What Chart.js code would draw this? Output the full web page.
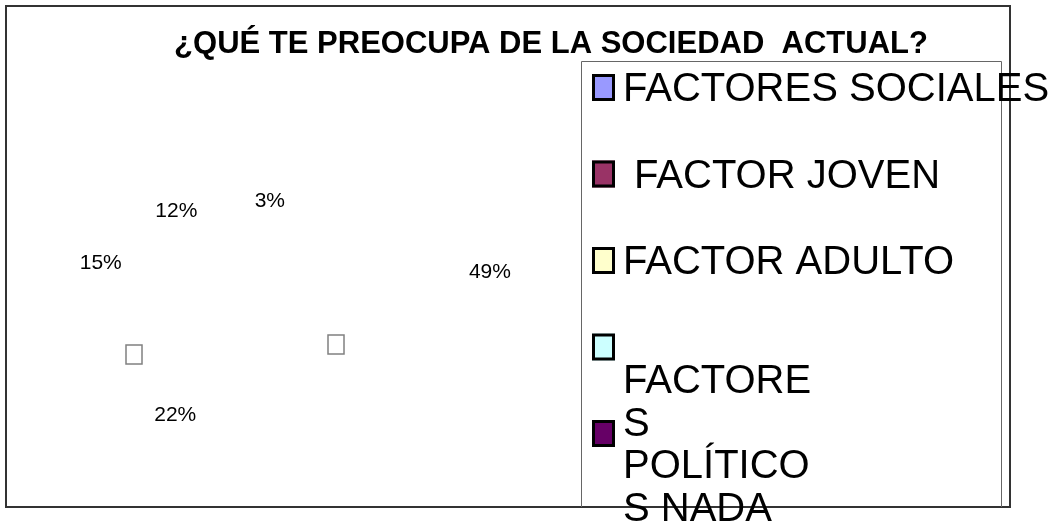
<!DOCTYPE html>
<html lang="es">
<head>
  <meta charset="UTF-8">
  <title>¿Qué te preocupa de la sociedad actual?</title>
  <script src="https://cdn.jsdelivr.net/npm/chart.js"></script>
  <style>
    body {
      margin: 0;
      background-color: #ffffff;
    }
    canvas {
      display: block;
    }
  </style>
</head>
<body>
  <canvas id="pieChart" width="1061" height="527"></canvas>

  <script>
    const chartTitle = "¿QUÉ TE PREOCUPA DE LA SOCIEDAD  ACTUAL?";
    const labels = ["FACTORES SOCIALES", " FACTOR JOVEN", "FACTOR ADULTO", "FACTORES POLÍTICOS", "NADA"];
    const values = [49, 22, 15, 12, 3];
    const sliceColors = ["#9999FF", "#993366", "#FFFFCC", "#CCFFFF", "#660066"];

    const fontFamily = "'Liberation Sans', Arial, sans-serif";

    // the slices themselves are not painted in the original, only the % labels
    // small per-label shifts so the labels land where the original put them
    const labelNudge = [[0, -12], [-11, 54], [-2, -10], [-15, -3], [-7, 0]];

    // word wrap, breaking a word by characters when it is too long for a line
    function wrapText(ctx, text, maxWidth) {
      const lines = [];
      let line = "";
      text.split(" ").forEach(word => {
        const test = line ? line + " " + word : word;
        if (ctx.measureText(test).width <= maxWidth) {
          line = test;
          return;
        }
        if (line) lines.push(line);
        line = "";
        let rest = word;
        while (ctx.measureText(rest).width > maxWidth) {
          let n = rest.length - 1;
          while (n > 1 && ctx.measureText(rest.slice(0, n)).width > maxWidth) n--;
          lines.push(rest.slice(0, n));
          rest = rest.slice(n);
        }
        line = rest;
      });
      if (line) lines.push(line);
      return lines;
    }

    const sheetPlugin = {
      id: "sheet",
      afterDraw(chart) {
        const ctx = chart.ctx;
        const meta = chart.getDatasetMeta(0);
        const total = values.reduce((a, b) => a + b, 0);
        ctx.save();

        // outer frame
        ctx.strokeStyle = "#333";
        ctx.lineWidth = 2;
        ctx.strokeRect(6, 6, 1004, 501);

        // legend frame (bottom is shared with the outer frame)
        ctx.strokeStyle = "#666";
        ctx.lineWidth = 1;
        ctx.beginPath();
        ctx.moveTo(581.5, 507);
        ctx.lineTo(581.5, 61.5);
        ctx.lineTo(1001.5, 61.5);
        ctx.lineTo(1001.5, 507);
        ctx.stroke();

        // title
        ctx.fillStyle = "#000";
        ctx.font = "bold 31px " + fontFamily;
        ctx.textAlign = "center";
        ctx.textBaseline = "alphabetic";
        ctx.fillText(chartTitle, 551, 53);

        // percentage labels, placed from each arc
        ctx.font = "21px " + fontFamily;
        ctx.textBaseline = "middle";
        meta.data.forEach((arc, i) => {
          const p = arc.getProps(["x", "y", "startAngle", "endAngle", "outerRadius"], true);
          const mid = (p.startAngle + p.endAngle) / 2;
          const lx = p.x + p.outerRadius * 0.893 * Math.cos(mid) + labelNudge[i][0];
          const ly = p.y + p.outerRadius * 0.4 * Math.sin(mid) + labelNudge[i][1];
          ctx.fillText(Math.round(values[i] / total * 100) + "%", lx, ly);
        });

        // empty glyph boxes left over in the plot
        if (meta.data.length) {
          const c = meta.data[0].getProps(["x", "y"], true);
          ctx.strokeStyle = "#808080";
          ctx.lineWidth = 1.5;
          ctx.strokeRect(c.x + 33, c.y + 46.5, 16, 19);
          ctx.strokeRect(c.x - 169, c.y + 56.5, 16, 19);
        }

        // legend
        const rowStep = 86.5;
        ctx.font = "40px " + fontFamily;
        ctx.textAlign = "left";
        ctx.textBaseline = "alphabetic";
        labels.forEach((lab, i) => {
          const top = 74 + i * rowStep;
          ctx.fillStyle = sliceColors[i];
          ctx.fillRect(592, top, 23, 27);
          ctx.strokeStyle = "#000";
          ctx.lineWidth = 3;
          ctx.strokeRect(593.5, top + 1.5, 20, 24);
          if (i < 3) {
            ctx.fillStyle = "#000";
            ctx.fillText(lab, 623, top + 27);
          }
        });
        // the last two entries run together in a narrow wrapped block
        ctx.fillStyle = "#000";
        const tail = wrapText(ctx, labels[3] + " " + labels[4], 200);
        tail.forEach((line, j) => {
          ctx.fillText(line, 623, 393 + j * 42.5);
        });

        ctx.restore();
      }
    };

    new Chart(document.getElementById("pieChart").getContext("2d"), {
      type: "pie",
      data: {
        labels: labels,
        datasets: [{
          data: values,
          backgroundColor: "rgba(0,0,0,0)",
          borderWidth: 0
        }]
      },
      options: {
        responsive: false,
        animation: false,
        layout: {
          padding: { left: 60, top: 70, right: 531, bottom: 20 }
        },
        plugins: {
          legend: { display: false },
          title: { display: false },
          tooltip: { enabled: false }
        }
      },
      plugins: [sheetPlugin]
    });
  </script>
</body>
</html>
